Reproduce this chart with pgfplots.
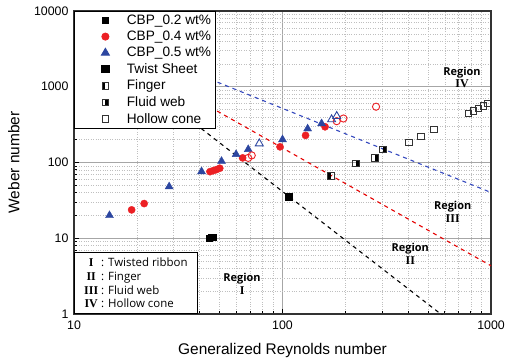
\documentclass[border=0pt]{standalone}
\usepackage{fontspec}
\setmainfont{Liberation Sans}
\newfontfamily\osans{Open Sans}
\newfontfamily\rmnum{Liberation Serif}
\usepackage{pgfplots}
\pgfplotsset{compat=1.18}

\definecolor{cred}{RGB}{236,32,36}
\definecolor{cblue}{RGB}{44,70,160}
\definecolor{lblue}{RGB}{52,72,190}

\pgfdeclareplotmark{sqL}{%
  \pgfpathrectangle{\pgfqpoint{-\pgfplotmarksize}{-\pgfplotmarksize}}{\pgfqpoint{\pgfplotmarksize}{2\pgfplotmarksize}}%
  \pgfusepathqfill
  \pgfpathrectangle{\pgfqpoint{-\pgfplotmarksize}{-\pgfplotmarksize}}{\pgfqpoint{2\pgfplotmarksize}{2\pgfplotmarksize}}%
  \pgfusepathqstroke
}
\pgfdeclareplotmark{sqR}{%
  \pgfpathrectangle{\pgfqpoint{0pt}{-\pgfplotmarksize}}{\pgfqpoint{\pgfplotmarksize}{2\pgfplotmarksize}}%
  \pgfusepathqfill
  \pgfpathrectangle{\pgfqpoint{-\pgfplotmarksize}{-\pgfplotmarksize}}{\pgfqpoint{2\pgfplotmarksize}{2\pgfplotmarksize}}%
  \pgfusepathqstroke
}

\begin{document}
\begin{tikzpicture}
\begin{axis}[
  at={(0,0)}, anchor=south west,
  scale only axis, width=417bp, height=303bp,
  xmode=log, ymode=log,
  xmin=10, xmax=1000, ymin=1, ymax=10000,
  xtick={10,100,1000}, xticklabels={10,100,1000},
  ytick={1,10,100,1000,10000}, yticklabels={1,10,100,1000,10000},
  minor xtick={20,30,40,50,60,70,80,90,200,300,400,500,600,700,800,900},
  minor ytick={2,3,4,5,6,7,8,9,20,30,40,50,60,70,80,90,200,300,400,500,600,700,800,900,2000,3000,4000,5000,6000,7000,8000,9000},
  grid=both,
  major grid style={color=black!35, line width=0.9pt},
  minor grid style={color=black!25, dotted, line width=0.5pt},
  tick align=inside, xtick pos=bottom, ytick pos=left,
  major tick length=5bp, minor tick length=3bp,
  every tick/.style={black, line width=0.8pt},
  axis line style={line width=1.2pt, black!80},
  tick label style={font=\fontsize{12.4}{14}\selectfont},
  xticklabel style={yshift=-3bp},
  yticklabel style={xshift=-2bp},
  xlabel={Generalized Reynolds number}, ylabel={Weber number},
  label style={font=\fontsize{15.5}{18}\selectfont},
  xlabel style={at={(axis description cs:0.5,-0.119)}, anchor=center},
  ylabel style={at={(axis description cs:-0.144,0.5)}, anchor=center},
  legend style={at={(rel axis cs:0,1)}, anchor=north west, draw=black, fill=white,
     line width=0.8pt, font=\fontsize{13.7}{15}\selectfont, row sep=1.2bp,
     inner xsep=2bp, inner ysep=1.5bp},
  legend cell align=left,
  legend image code/.code={\pgfpathrectangle{\pgfqpoint{-29bp}{0bp}}{\pgfqpoint{48.5bp}{0.1bp}}\pgfusepath{discard}%
     \draw[mark repeat=2, mark phase=2, #1] plot coordinates {(-1bp,0bp) (0bp,0bp) (1bp,0bp)};},
]
% CBP_0.2
\addplot[only marks, mark=square*, mark size=3bp, draw=black, fill=black] coordinates {
 (44.5,10.0) (45.5,10.2) (46.5,10.4)};
\addlegendentry{CBP\_0.2 wt\%}
% CBP_0.4
\addplot[only marks, mark=*, mark size=3.6bp, draw=cred, fill=cred] coordinates {
 (18.9,23.7) (21.7,28.7) (44.9,75.7) (46.5,78) (48.2,80.5) (50,84)
 (64.4,115) (97.3,161) (129,228) (160,296)};
\addlegendentry{CBP\_0.4 wt\%}
% CBP_0.5
\addplot[only marks, mark=triangle*, mark size=4.6bp, draw=cblue, fill=cblue] coordinates {
 (14.8,20) (28.6,48) (40.9,76) (51,104) (59.9,128) (68.5,149)
 (100,201) (132,279) (154,327)};
\addlegendentry{CBP\_0.5 wt\%}
% Twist sheet
\addplot[only marks, mark=square*, mark size=3.6bp, draw=black, fill=black] coordinates {(107,35)};
\addlegendentry{Twist Sheet}
% Finger
\addplot[only marks, mark=sqL, mark size=3.3bp, draw=black!80, fill=black, line width=0.9pt] coordinates {(171,66)};
\addlegendentry{Finger}
% Fluid web
\addplot[only marks, mark=sqR, mark size=3.3bp, draw=black!80, fill=black, line width=0.9pt] coordinates {
 (225,97) (278,115) (304,149)};
\addlegendentry{Fluid web}
% Hollow cone
\addplot[only marks, mark=square, mark size=3.3bp, draw=black!80, line width=0.9pt] coordinates {
 (404,185) (462,222) (531,273) (778,444) (822,476) (869,517) (919,555) (964,601)};
\addlegendentry{Hollow cone}
% open symbols
\addplot[forget plot, only marks, mark=o, mark size=3.6bp, draw=cred, line width=0.9pt] coordinates {
 (68.5,115) (71.2,124) (182,351) (196,381) (281,545)};
\addplot[forget plot, only marks, mark=triangle, mark size=4.6bp, draw=cblue, line width=0.9pt] coordinates {
 (77.4,178) (172,370) (182,409)};
% boundaries
\addplot[forget plot, black, line width=1.1pt, dash pattern=on 4bp off 4bp] coordinates {(38,326) (600,0.91)};
\addplot[forget plot, red!90!black, line width=1.1pt, dash pattern=on 4bp off 4bp] coordinates {(45,538) (1000,4.33)};
\addplot[forget plot, lblue, line width=1.1pt, dash pattern=on 4bp off 4bp] coordinates {(45,1256) (1000,40.2)};
% region labels
\node[align=center, font=\osans\bfseries\fontsize{11}{13}\selectfont] at (axis cs:726,1327) {Region\\{\rmnum\fontsize{12}{13}\selectfont IV}};
\node[align=center, font=\osans\bfseries\fontsize{11}{13}\selectfont] at (axis cs:655,22.5) {Region\\{\rmnum\fontsize{12}{13}\selectfont III}};
\node[align=center, font=\osans\bfseries\fontsize{11}{13}\selectfont] at (axis cs:410,6.28) {Region\\{\rmnum\fontsize{12}{13}\selectfont II}};
\node[align=center, font=\osans\bfseries\fontsize{11}{13}\selectfont] at (axis cs:64,2.48) {Region\\{\rmnum\fontsize{12}{13}\selectfont I}};
% description box
\node[anchor=south west, draw=black, fill=white, line width=0.8pt, inner xsep=3bp, inner ysep=2bp,
      minimum width=123bp, minimum height=61bp, align=left,
      font=\osans\fontsize{11.5}{13.7}\selectfont] at (rel axis cs:0,0) {%
  \makebox[14bp]{\rmnum\bfseries\fontsize{12}{13}\selectfont I} : Twisted ribbon\\
  \makebox[14bp]{\rmnum\bfseries\fontsize{12}{13}\selectfont II} : Finger\\
  \makebox[14bp]{\rmnum\bfseries\fontsize{12}{13}\selectfont III} : Fluid web\\
  \makebox[14bp]{\rmnum\bfseries\fontsize{12}{13}\selectfont IV} : Hollow cone};
\end{axis}
\pgfresetboundingbox
\path[use as bounding box] (-74bp,-48bp) rectangle (431bp,314bp);
\end{tikzpicture}
\end{document}
